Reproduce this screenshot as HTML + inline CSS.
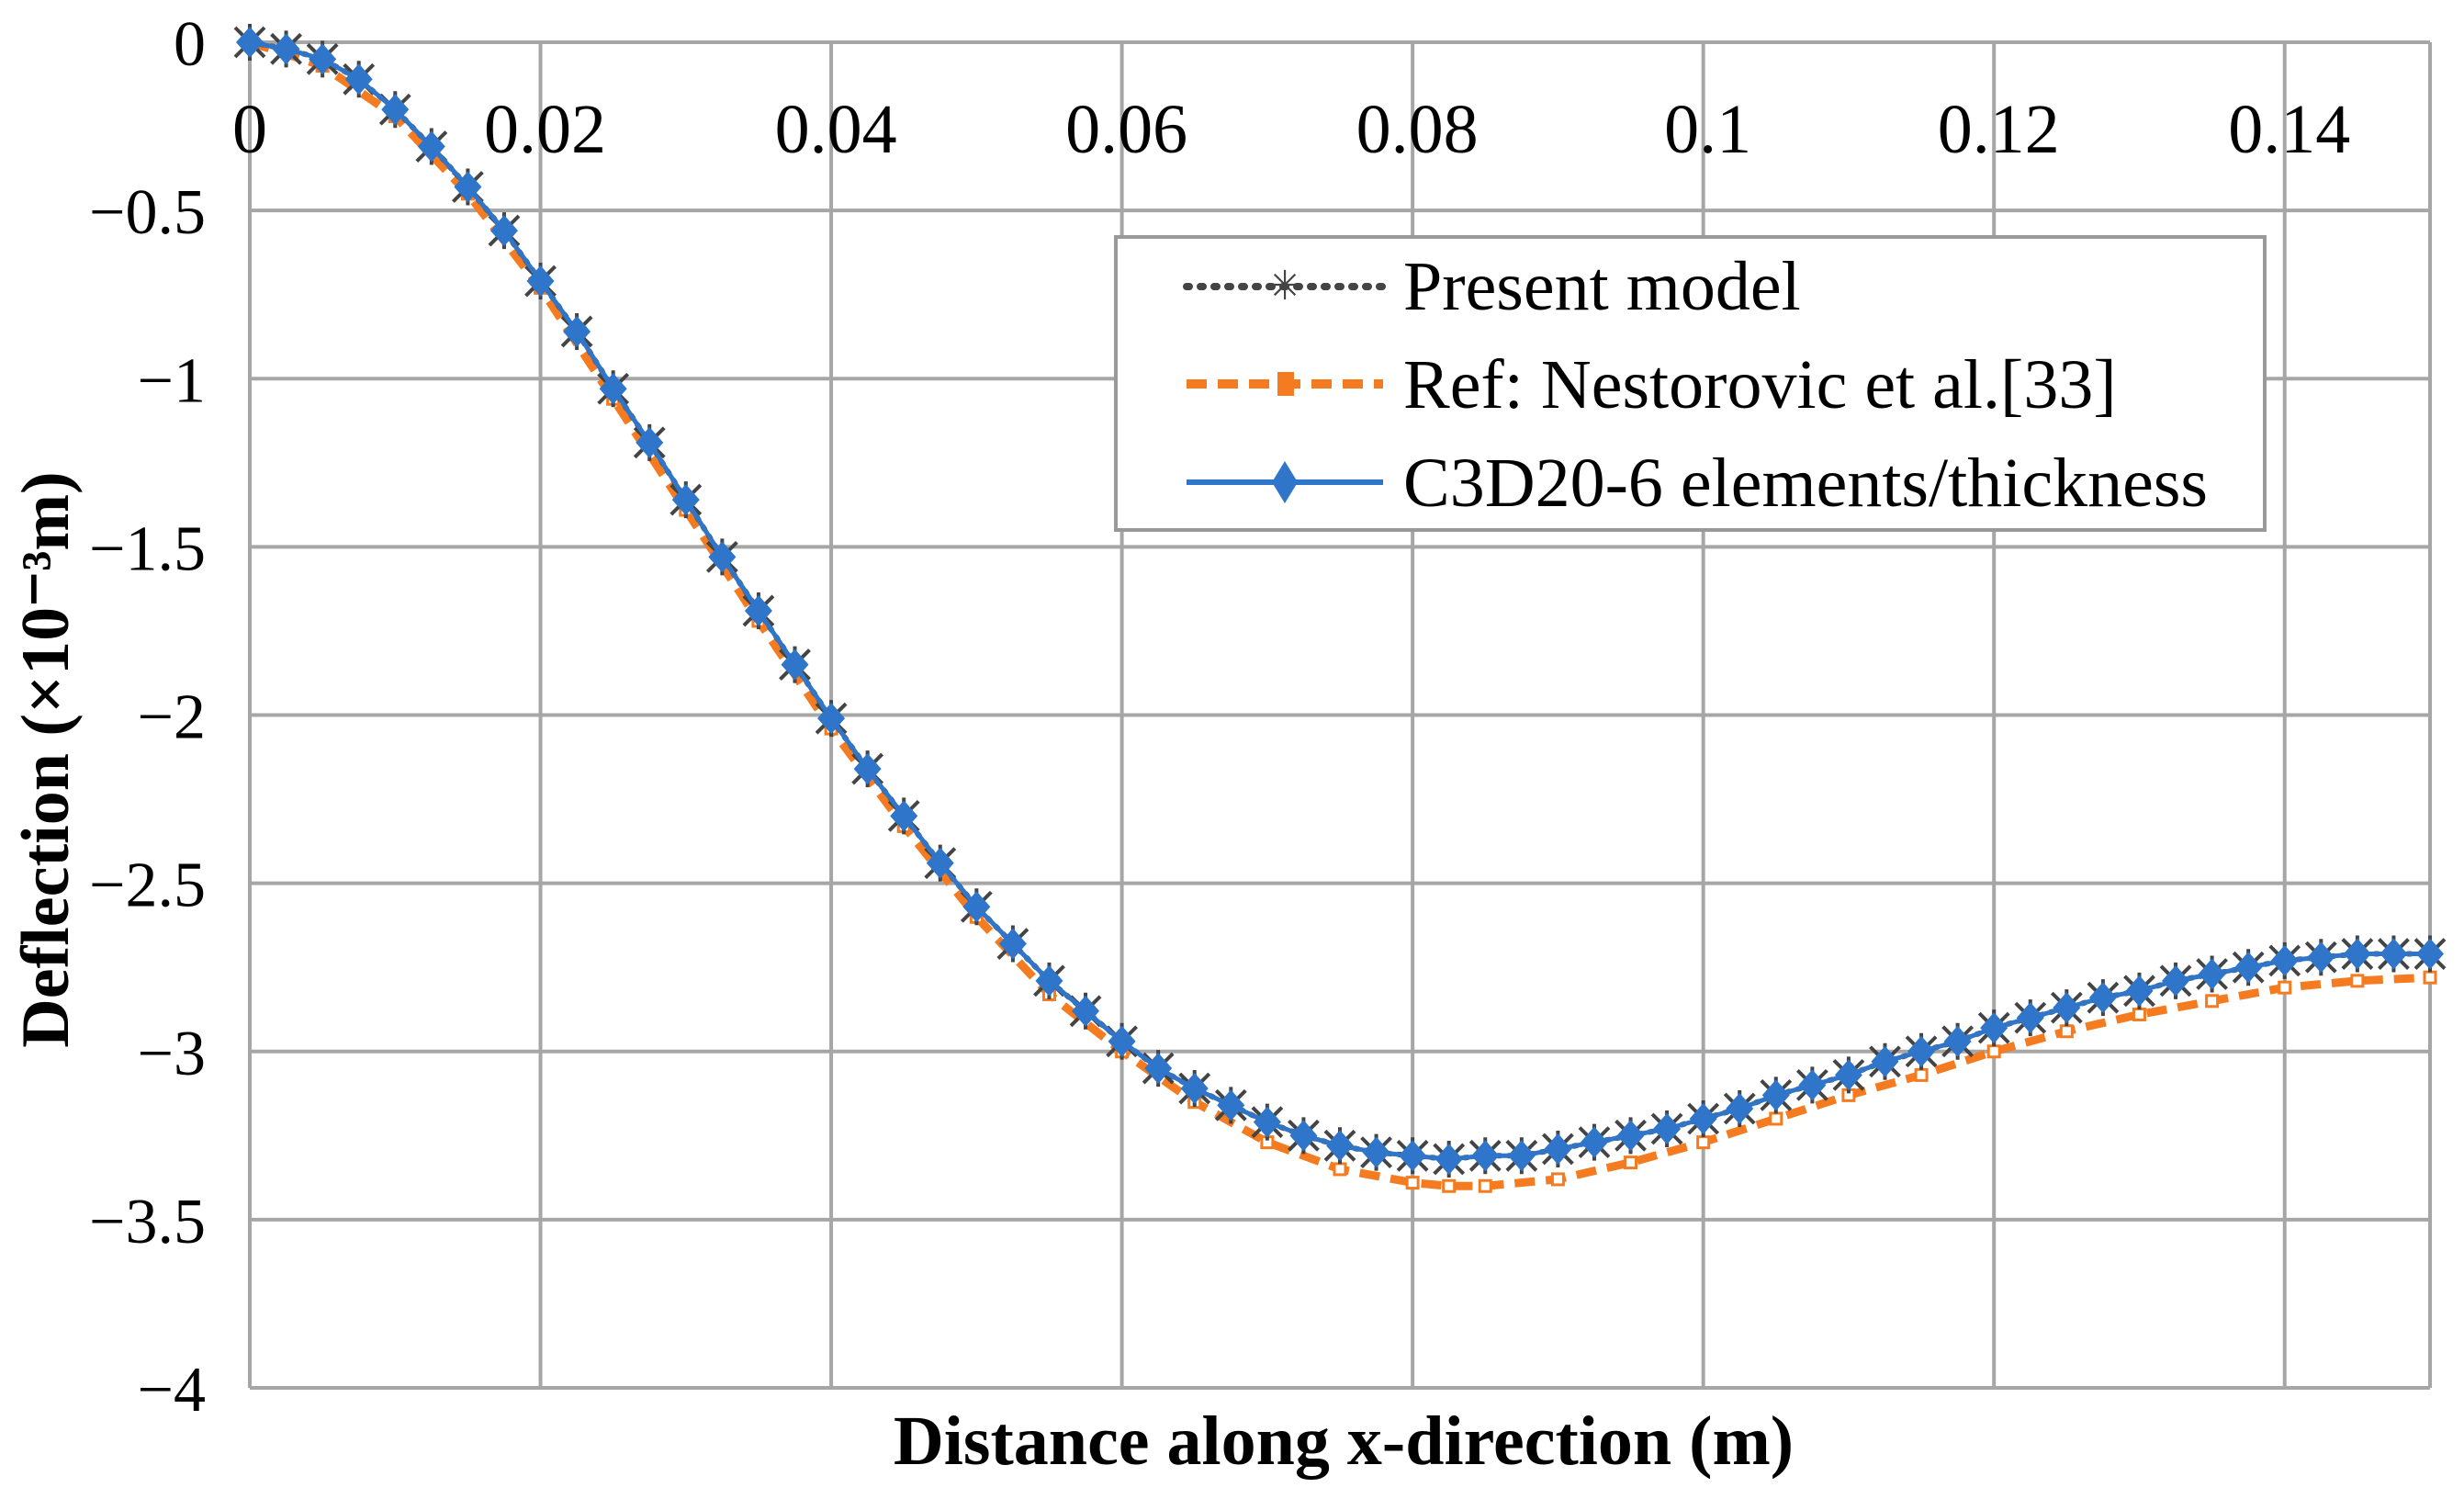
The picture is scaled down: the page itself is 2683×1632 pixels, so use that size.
<!DOCTYPE html>
<html><head><meta charset="utf-8"><style>
html,body{margin:0;padding:0;background:#fff;}
svg{display:block;font-family:"Liberation Serif",serif;}
</style></head><body>
<svg id="chart" width="2683" height="1632" viewBox="0 0 2683 1632">
<g id="grid"></g>
<g id="yticks"></g>
<g id="xticks"></g>
<g id="series"></g>
<text x="1463" y="1594" text-anchor="middle" font-size="76" font-weight="bold">Distance along x-direction (m)</text>
<text transform="translate(74,827) rotate(-90)" text-anchor="middle" font-size="74" font-weight="bold">Deflection (×10⁻³m)</text>
<g>
<rect x="1215" y="258" width="1251" height="319" fill="#fff" stroke="#999" stroke-width="4"/>
<g>
<line x1="1292" y1="312" x2="1506" y2="312" stroke="#444" stroke-width="8" stroke-dasharray="3,12" stroke-linecap="round"/>
<text x="1399" y="326" text-anchor="middle" font-size="44" fill="#444">✳</text>
<text x="1528" y="337" font-size="76">Present model</text></g>
<g>
<line x1="1292" y1="418" x2="1506" y2="418" stroke="#f47b20" stroke-width="10" stroke-dasharray="22,12"/>
<rect x="1391" y="405" width="18" height="26" fill="#f47b20"/>
<text x="1528" y="444" font-size="76">Ref: Nestorovic et al.[33]</text></g>
<g>
<line x1="1292" y1="525" x2="1506" y2="525" stroke="#2f75c9" stroke-width="6"/>
<polygon points="1399,502 1413,525 1399,548 1385,525" fill="#2f75c9"/>
<text x="1528" y="551" font-size="76">C3D20-6 elements/thickness</text></g>
</g>
</svg>
<script>
const xValues=[0,0.0025,0.005,0.0075,0.01,0.0125,0.015,0.0175,0.02,0.0225,0.025,0.0275,0.03,0.0325,0.035,0.0375,0.04,0.0425,0.045,0.0475,0.05,0.0525,0.055,0.0575,0.06,0.0625,0.065,0.0675,0.07,0.0725,0.075,0.0775,0.08,0.0825,0.085,0.0875,0.09,0.0925,0.095,0.0975,0.1,0.1025,0.105,0.1075,0.11,0.1125,0.115,0.1175,0.12,0.1225,0.125,0.1275,0.13,0.1325,0.135,0.1375,0.14,0.1425,0.145,0.1475,0.15];
const c3d20Values=[0,-0.02,-0.05,-0.11,-0.2,-0.31,-0.43,-0.56,-0.71,-0.86,-1.03,-1.19,-1.36,-1.53,-1.69,-1.85,-2.01,-2.16,-2.3,-2.44,-2.57,-2.68,-2.79,-2.88,-2.97,-3.05,-3.11,-3.16,-3.21,-3.25,-3.28,-3.3,-3.31,-3.32,-3.31,-3.31,-3.29,-3.27,-3.25,-3.23,-3.2,-3.17,-3.13,-3.1,-3.07,-3.03,-3.0,-2.97,-2.93,-2.9,-2.87,-2.84,-2.82,-2.79,-2.77,-2.75,-2.73,-2.72,-2.71,-2.71,-2.71];
const presentValues=[0,-0.02,-0.05,-0.11,-0.2,-0.31,-0.43,-0.56,-0.71,-0.86,-1.03,-1.19,-1.36,-1.53,-1.69,-1.85,-2.01,-2.16,-2.3,-2.44,-2.57,-2.68,-2.79,-2.88,-2.97,-3.05,-3.11,-3.16,-3.21,-3.25,-3.28,-3.3,-3.31,-3.32,-3.31,-3.31,-3.29,-3.27,-3.25,-3.23,-3.2,-3.17,-3.13,-3.1,-3.07,-3.03,-3.0,-2.97,-2.93,-2.9,-2.87,-2.84,-2.82,-2.79,-2.77,-2.75,-2.73,-2.72,-2.71,-2.71,-2.71];
const refX=[0,0.005,0.01,0.015,0.02,0.025,0.03,0.035,0.04,0.045,0.05,0.055,0.06,0.065,0.07,0.075,0.08,0.0825,0.085,0.09,0.095,0.1,0.105,0.11,0.115,0.12,0.125,0.13,0.135,0.14,0.145,0.15];
const refValues=[0,-0.07,-0.22,-0.45,-0.73,-1.06,-1.39,-1.72,-2.04,-2.33,-2.6,-2.83,-3.0,-3.15,-3.27,-3.35,-3.39,-3.4,-3.4,-3.38,-3.33,-3.27,-3.2,-3.13,-3.07,-3.0,-2.94,-2.89,-2.85,-2.81,-2.79,-2.78];
const xTicks=[0,0.02,0.04,0.06,0.08,0.1,0.12,0.14];
const xTickLabels=["0","0.02","0.04","0.06","0.08","0.1","0.12","0.14"];
const yTicks=[0,-0.5,-1,-1.5,-2,-2.5,-3,-3.5,-4];
const yTickLabels=["0","\u22120.5","\u22121","\u22121.5","\u22122","\u22122.5","\u22123","\u22123.5","\u22124"];

const NS="http://www.w3.org/2000/svg";
const X0=272,X1=2646,Y0=46,Y1=1511;
const sx=v=>X0+(v-0)/(0.15)*(X1-X0);
const sy=v=>Y0+(0-v)/4*(Y1-Y0);
function mk(tag,attrs,parent){const e=document.createElementNS(NS,tag);for(const k in attrs)e.setAttribute(k,attrs[k]);parent.appendChild(e);return e;}
const grid=document.getElementById('grid');
yTicks.forEach((t)=>{
 const l=mk('line',{x1:X0,x2:X1,y1:sy(t),y2:sy(t),stroke:'#a6a6a6','stroke-width':4},grid);
 
 
});
xTicks.forEach((t)=>{
 const l=mk('line',{x1:sx(t),x2:sx(t),y1:Y0,y2:Y1,stroke:'#a6a6a6','stroke-width':4},grid);
 
 
});
const rb=mk('line',{x1:X1,x2:X1,y1:Y0,y2:Y1,stroke:'#a6a6a6','stroke-width':4},grid);


const yt=document.getElementById('yticks');
yTicks.forEach((t,i)=>{
 const e=mk('text',{x:224,y:sy(t)+25,'text-anchor':'end','font-size':70},yt);
 e.textContent=yTickLabels[i];
 
 
});
const xt=document.getElementById('xticks');
xTicks.forEach((t,i)=>{
 const e=mk('text',{x:sx(t)+(i==0?0:5),y:166,'text-anchor':'middle','font-size':76},xt);
 e.textContent=xTickLabels[i];
 
 
});
const S=document.getElementById('series');
function pts(xs,ys){return xs.map((x,i)=>sx(x)+','+sy(ys[i])).join(' ');}
const gr=mk('g',{},S);


mk('polyline',{points:pts(refX,refValues),fill:'none',stroke:'#f47b20','stroke-width':9,'stroke-dasharray':'22,12'},gr);
refX.forEach((x,i)=>{
 const m=mk('rect',{x:sx(x)-6,y:sy(refValues[i])-6,width:12,height:12,fill:'#fff',stroke:'#f47b20','stroke-width':3},gr);
 
 
});
const gp=mk('g',{},S);


mk('polyline',{points:pts(xValues,presentValues),fill:'none',stroke:'#555','stroke-width':6,'stroke-dasharray':'3,9','stroke-linecap':'round'},gp);
xValues.forEach((x,i)=>{
 const cx=sx(x),cy=sy(presentValues[i]);
 const m=mk('path',{d:`M${cx-16},${cy-16}L${cx+16},${cy+16}M${cx+16},${cy-16}L${cx-16},${cy+16}M${cx},${cy-20}L${cx},${cy+20}`,stroke:'#444','stroke-width':4},gp);
 
 
});
const gb=mk('g',{},S);


mk('polyline',{points:pts(xValues,c3d20Values),fill:'none',stroke:'#2f75c9','stroke-width':5},gb);
xValues.forEach((x,i)=>{
 const cx=sx(x),cy=sy(c3d20Values[i]);
 const m=mk('polygon',{points:`${cx},${cy-17} ${cx+15},${cy} ${cx},${cy+17} ${cx-15},${cy}`,fill:'#2f75c9'},gb);
 
 
});
</script>
</body></html>
